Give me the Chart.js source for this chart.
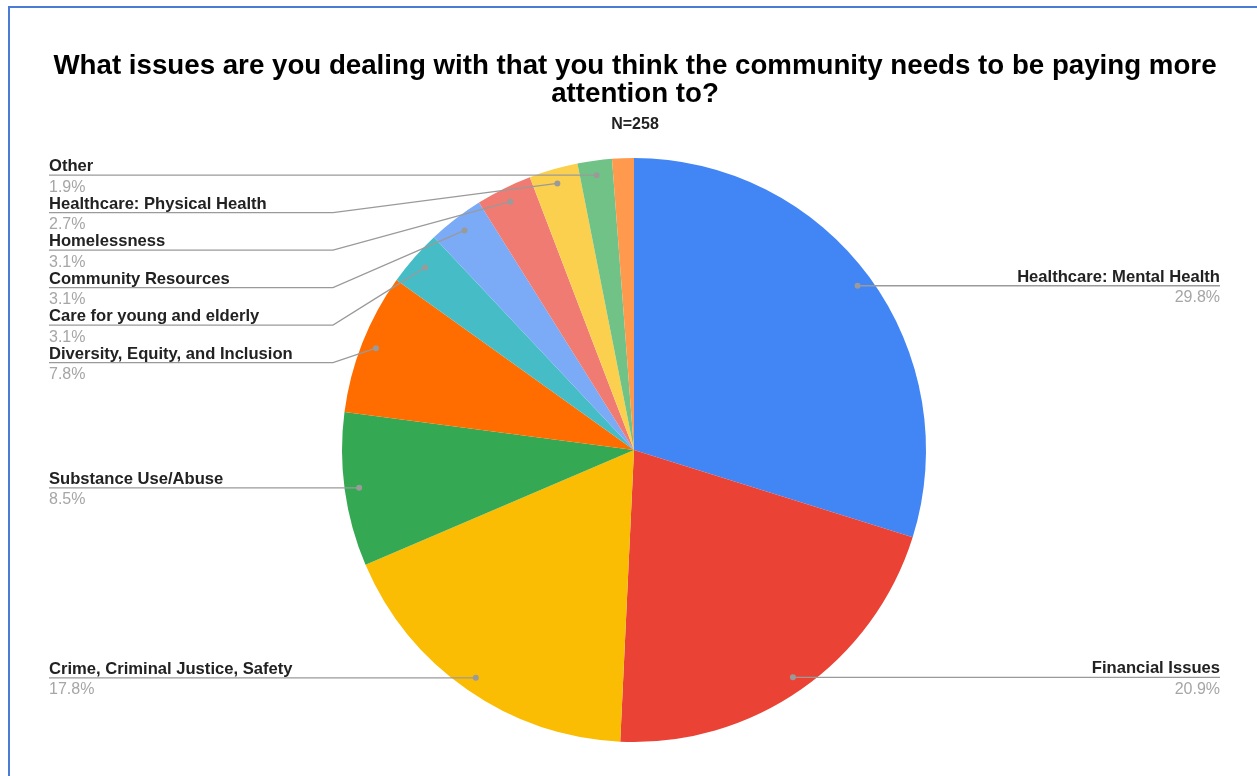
<!DOCTYPE html>
<html>
<head>
<meta charset="utf-8">
<script src="https://cdn.jsdelivr.net/npm/chart.js@4/dist/chart.umd.min.js"></script>
<style>
  html, body { margin: 0; background: #fff; }
  #wrap { position: relative; width: 1257px; height: 776px; overflow: hidden; }
  #frame { position: absolute; left: 8px; top: 6px; right: -4px; bottom: -4px; border-top: 2px solid #4a7bd5; border-left: 2px solid #4a7bd5; pointer-events: none; }
</style>
</head>
<body>
<div id="wrap">
  <canvas id="chart" width="1257" height="776"></canvas>
  <div id="frame"></div>
</div>
<script>
const titleLines = ["What issues are you dealing with that you think the community needs to be paying more", "attention to?"];
const subtitle = "N=258";

const categories = [
    "Healthcare: Mental Health",
    "Financial Issues",
    "Crime, Criminal Justice, Safety",
    "Substance Use/Abuse",
    "Diversity, Equity, and Inclusion",
    "Care for young and elderly",
    "Community Resources",
    "Homelessness",
    "Healthcare: Physical Health",
    "Other",
    ""
];
const shares = [29.8, 20.9, 17.8, 8.5, 7.8, 3.1, 3.1, 3.1, 2.7, 1.9, 1.2];
const colors = ["#4285f4", "#ea4335", "#fbbc04", "#34a853", "#ff6d01", "#46bdc6", "#7baaf7", "#f07b72", "#fcd04f", "#71c287", "#ff994d"];

const FONT = '"Liberation Sans", Arial, sans-serif';
const LEFT_TEXT_X = 49;
const RIGHT_TEXT_X = 1220;
const LABEL_GAP = 37.5;

// title block above the pie
const titlePlugin = {
    id: "titleBlock",
    afterDraw(chart) {
        const ctx = chart.ctx;
        ctx.save();
        ctx.fillStyle = "#000";
        ctx.textAlign = "center";
        ctx.textBaseline = "alphabetic";
        ctx.font = `bold 27.7px ${FONT}`;
        ctx.fillText(titleLines[0], 635, 74);
        ctx.fillText(titleLines[1], 635, 102);
        ctx.fillStyle = "#222";
        ctx.font = `bold 16px ${FONT}`;
        ctx.fillText(subtitle, 635, 129);
        ctx.restore();
    }
};

// outside labels with leader lines, stacked so they never overlap
const leaderLabels = {
    id: "leaderLabels",
    afterDatasetsDraw(chart) {
        const ctx = chart.ctx;
        const arcs = chart.getDatasetMeta(0).data;
        const items = [];
        arcs.forEach((arc, i) => {
            if (!categories[i]) return;
            const { x, y, startAngle, endAngle, outerRadius } = arc.getProps(["x", "y", "startAngle", "endAngle", "outerRadius"], true);
            const mid = (startAngle + endAngle) / 2;
            const r = outerRadius * 0.95;
            const px = x + Math.cos(mid) * r;
            const py = y + Math.sin(mid) * r;
            items.push({ i, px, py, cx: x, R: outerRadius, side: px >= x ? "right" : "left" });
        });
        ["left", "right"].forEach(side => {
            let prev = -Infinity;
            items.filter(it => it.side === side).sort((a, b) => a.py - b.py).forEach(it => {
                it.ly = Math.max(it.py, prev + LABEL_GAP);
                prev = it.ly;
            });
        });

        ctx.save();
        items.forEach(it => {
            ctx.strokeStyle = "#9a9a9a";
            ctx.lineWidth = 1.3;
            ctx.beginPath();
            if (it.side === "left") {
                ctx.moveTo(LEFT_TEXT_X, it.ly);
                if (it.ly !== it.py) ctx.lineTo(it.cx - it.R - 9, it.ly);
                ctx.lineTo(it.px, it.py);
            } else {
                ctx.moveTo(it.px, it.py);
                ctx.lineTo(RIGHT_TEXT_X, it.ly);
            }
            ctx.stroke();

            ctx.fillStyle = "#9a9a9a";
            ctx.beginPath();
            ctx.arc(it.px, it.py, 3, 0, Math.PI * 2);
            ctx.fill();

            const tx = it.side === "left" ? LEFT_TEXT_X : RIGHT_TEXT_X;
            ctx.textAlign = it.side === "left" ? "left" : "right";
            ctx.textBaseline = "alphabetic";
            ctx.font = `bold 16.6px ${FONT}`;
            ctx.fillStyle = "#222";
            ctx.fillText(categories[it.i], tx, it.ly - 4);
            ctx.font = `16px ${FONT}`;
            ctx.fillStyle = "#a6a6a6";
            ctx.fillText(shares[it.i].toFixed(1) + "%", tx, it.ly + 16.5);
        });
        ctx.restore();
    }
};

new Chart(document.getElementById("chart"), {
    type: "pie",
    data: {
        labels: categories,
        datasets: [{ data: shares, backgroundColor: colors, borderWidth: 0 }]
    },
    options: {
        responsive: false,
        animation: false,
        events: [],
        layout: { padding: { top: 158, bottom: 34, left: 342, right: 331 } },
        plugins: { legend: { display: false }, tooltip: { enabled: false }, title: { display: false } }
    },
    plugins: [leaderLabels, titlePlugin]
});
</script>
</body>
</html>
